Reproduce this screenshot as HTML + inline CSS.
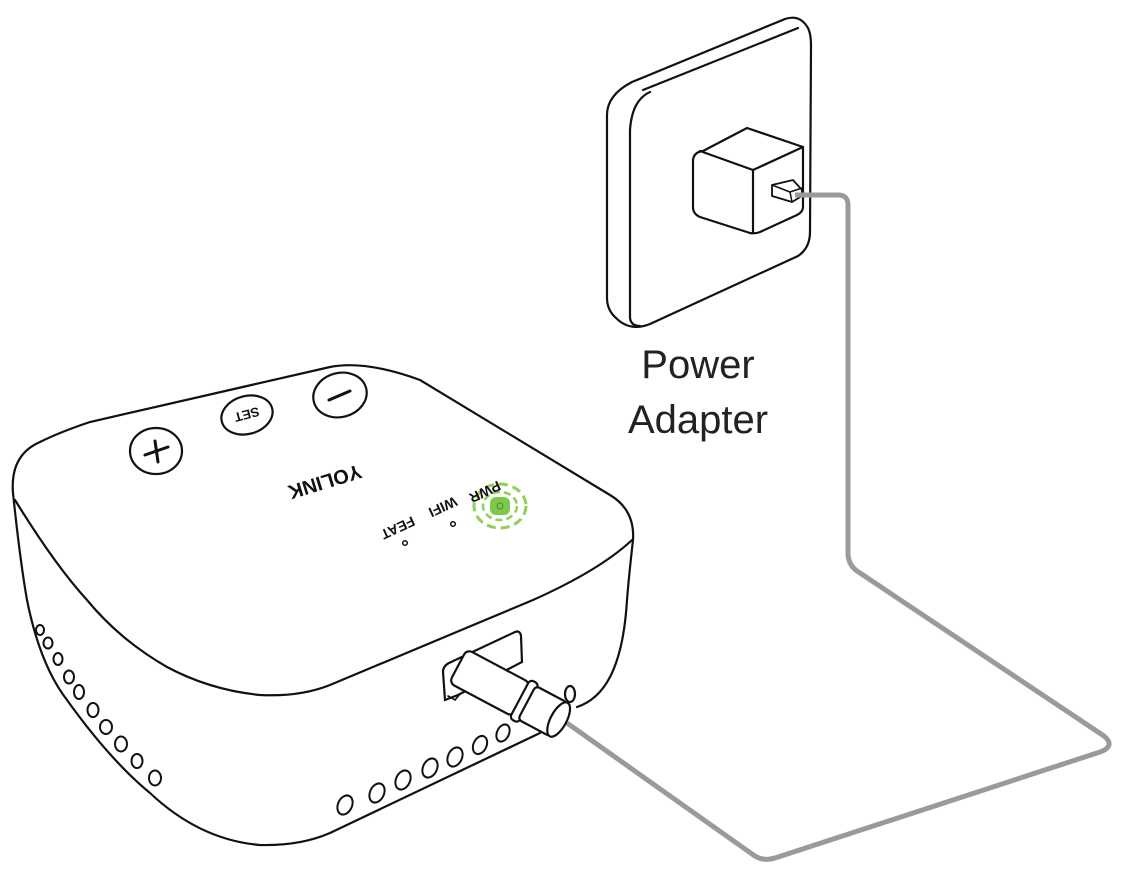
<!DOCTYPE html>
<html><head><meta charset="utf-8"><style>
html,body{margin:0;padding:0;background:#fff;}
svg{display:block;}
</style></head><body>
<svg width="1142" height="874" viewBox="0 0 1142 874" xmlns="http://www.w3.org/2000/svg">
<g fill="none" stroke="#111" stroke-width="2.2" stroke-linejoin="round" stroke-linecap="round">
<!-- wall plate -->
<path d="M607,115 Q607,95 632,82 L785,19 Q800,14 808,28 Q811,34 811,45 L810,232 Q810,248 798,256 L650,324 Q630,332 616,318 Q607,310 607,298 Z" fill="#fff"/>
<path d="M643,90 L798,28"/>
<path d="M630,130 Q632,100 650,92"/>
<path d="M630,130 L630,318 Q631,326 640,326"/>
<!-- adapter cube -->
<path d="M693,160 Q694,152 703,151 L747,128 L803,147 L803,207 Q803,212 797,215 L760,232 Q755,234 750,233 L700,217 Q693,214 693,207 Z" fill="#fff"/>
<path d="M700,151 L753,170 L803,147"/>
<path d="M753,170 L753,233"/>
<path d="M772,185 L793,180 L802,190 L802,196 L792,202 L772,196 Z" fill="#fff" stroke-width="1.8"/>
<path d="M772,185 L790,192 L802,188 M790,192 L792,202" stroke-width="1.5"/>
</g>
<!-- cable -->
<path d="M795,195 L838,195 Q848,195 848,205 L848,553 Q848,566 860,573 L1104,736 Q1116,746 1100,752 L775,858 Q762,862 752,854 L567,723" fill="none" stroke="#9a9a9a" stroke-width="5" stroke-linejoin="round"/>
<!-- text -->
<text x="698" y="378" font-family="Liberation Sans, sans-serif" font-size="40" text-anchor="middle" fill="#222">Power</text>
<text x="698" y="433" font-family="Liberation Sans, sans-serif" font-size="40" text-anchor="middle" fill="#222">Adapter</text>

<!-- device -->
<g fill="none" stroke="#111" stroke-width="2.2" stroke-linecap="round">
<path d="M13,493 Q10,455 40,442 Q60,432 90,422 L330,367 Q365,360 420,380 L610,495 Q635,510 633,540"/>
<path d="M13,493 Q20,560 27,600 Q40,665 67,700 Q110,760 150,793 Q200,840 260,845 Q300,846 330,833 L540,733"/>
<path d="M15,500 Q55,565 87,600 Q120,640 167,667 Q210,690 260,695 Q300,697 330,685 L533,600 Q600,570 632,540"/>
<path d="M633,540 Q629,575 627,600 Q624,650 610,677 Q598,700 577,707"/>
<ellipse cx="156" cy="451" rx="26" ry="23"/>
<path d="M145,455 L168,447 M155,441 L158,462" stroke-width="3"/>
<ellipse cx="247" cy="415" rx="26" ry="19" transform="rotate(-15 247 415)"/>
<ellipse cx="340" cy="395" rx="27" ry="22" transform="rotate(-15 340 395)"/>
<path d="M329,400 L350,391" stroke-width="3"/>
<path d="M445,700 L443,672 Q443,666 449,663 L515,632 Q520,630 521,636 L522,662 L458,695 Z" fill="#fff"/>
<path d="M448,696 L455,700 L460,694" stroke-width="1.6"/>
<ellipse cx="570" cy="694" rx="5" ry="8" fill="#fff"/>
<g transform="translate(458,666) rotate(28)">
<rect x="0" y="-19" width="72" height="38" rx="6" fill="#fff"/>
<rect x="70" y="-22" width="10" height="44" rx="4" fill="#fff"/>
<rect x="78" y="-19" width="36" height="38" rx="4" fill="#fff"/>
<ellipse cx="114" cy="0" rx="8" ry="19" fill="#fff"/>
</g>
<g stroke-width="2">
<ellipse cx="40" cy="630" rx="4" ry="5"/>
<ellipse cx="48" cy="643" rx="4.5" ry="5.5"/>
<ellipse cx="58" cy="659" rx="4.5" ry="6"/>
<ellipse cx="69" cy="677" rx="5" ry="6.5"/>
<ellipse cx="79" cy="692" rx="5" ry="7"/>
<ellipse cx="93" cy="710" rx="5.5" ry="7"/>
<ellipse cx="106" cy="727" rx="6" ry="7"/>
<ellipse cx="121" cy="744" rx="6" ry="7.5"/>
<ellipse cx="137" cy="761" rx="5.5" ry="7"/>
<ellipse cx="155" cy="778" rx="6" ry="7.5"/>
<ellipse cx="345" cy="805" rx="7" ry="10" transform="rotate(25 345 805)"/>
<ellipse cx="377" cy="793" rx="7" ry="10" transform="rotate(25 377 793)"/>
<ellipse cx="403" cy="780" rx="7" ry="10" transform="rotate(25 403 780)"/>
<ellipse cx="430" cy="768" rx="7" ry="10" transform="rotate(25 430 768)"/>
<ellipse cx="455" cy="757" rx="7" ry="10" transform="rotate(25 455 757)"/>
<ellipse cx="480" cy="745" rx="6.5" ry="9.5" transform="rotate(25 480 745)"/>
<ellipse cx="503" cy="733" rx="6" ry="9" transform="rotate(25 503 733)"/>
</g>
<circle cx="453" cy="524" r="2.3" stroke-width="1.5"/>
<circle cx="405" cy="543" r="2.3" stroke-width="1.5"/>
</g>
<text x="247" y="420" font-family="Liberation Sans, sans-serif" font-weight="bold" font-size="13" text-anchor="middle" fill="#111" transform="rotate(165 247 415)">SET</text>
<text x="325" y="489" font-family="Liberation Sans, sans-serif" font-weight="bold" font-size="20" text-anchor="middle" fill="#111" transform="rotate(163 325 482)">YOLINK</text>
<ellipse cx="500" cy="506" rx="26" ry="22" fill="none" stroke="#8cd05a" stroke-width="3" stroke-dasharray="9 5"/>
<ellipse cx="500" cy="506" rx="17" ry="14" fill="none" stroke="#8cd05a" stroke-width="2.5" stroke-dasharray="7 4"/>
<rect x="490" y="497" width="20" height="18" rx="6" fill="#7cc84a"/>
<circle cx="500" cy="506" r="3" fill="none" stroke="#4a8a2a" stroke-width="1"/>
<text x="485" y="497" font-family="Liberation Sans, sans-serif" font-weight="bold" font-size="14" text-anchor="middle" fill="#111" transform="rotate(155 485 492)">PWR</text>
<text x="443" y="512" font-family="Liberation Sans, sans-serif" font-weight="bold" font-size="14" text-anchor="middle" fill="#111" transform="rotate(155 443 507)">WIFI</text>
<text x="398" y="533" font-family="Liberation Sans, sans-serif" font-weight="bold" font-size="14" text-anchor="middle" fill="#111" transform="rotate(155 398 528)">FEAT</text>
</svg>
</body></html>
